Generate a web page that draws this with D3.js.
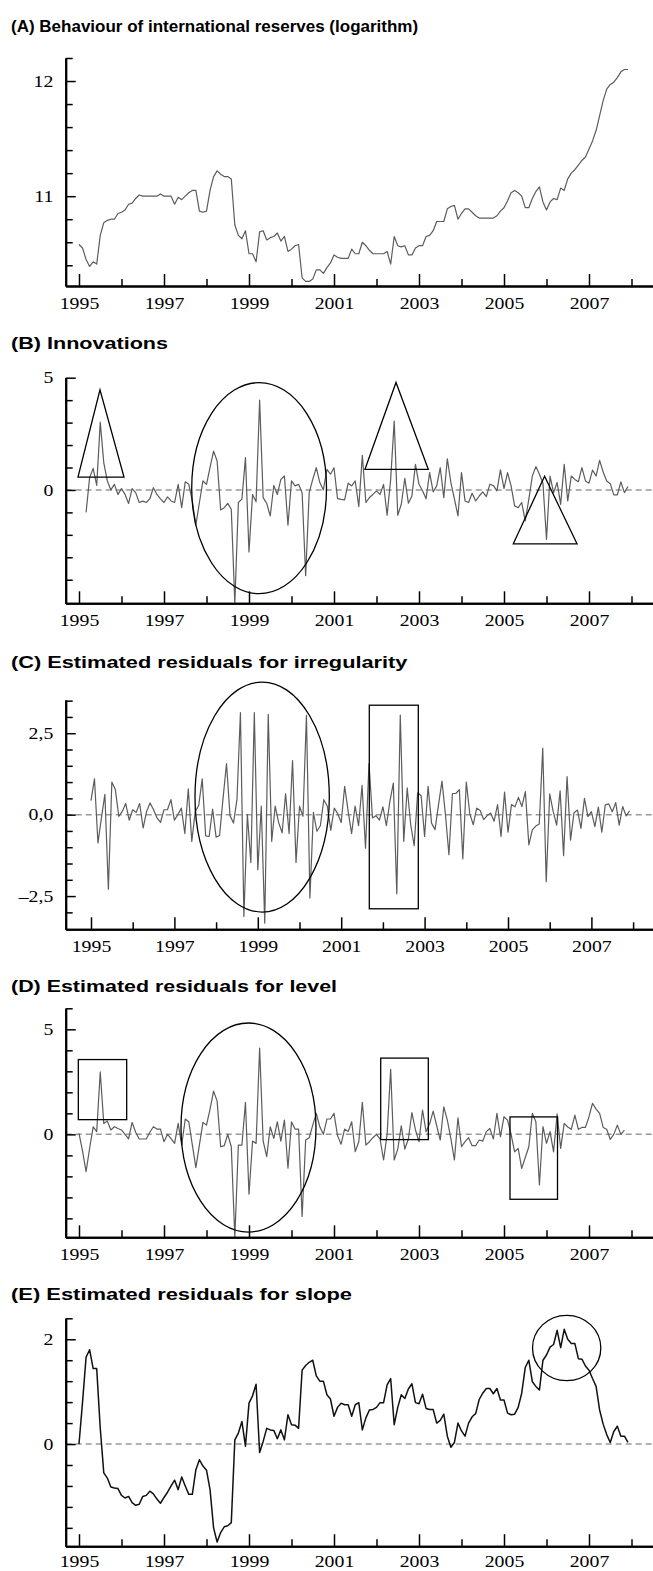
<!DOCTYPE html>
<html>
<head>
<meta charset="utf-8">
<script src="https://cdn.jsdelivr.net/npm/d3@7"></script>
<style>
  body { margin: 0; background: #fff; }
  svg { display: block; }
  .title { font-family: "Liberation Sans", Arial, sans-serif; font-weight: bold; font-size: 17px; fill: #000; }
  .axis path { stroke: #000; stroke-width: 2; }
  .axis line { stroke: #000; stroke-width: 1.5; }
</style>
</head>
<body>
<div id="chart"></div>
<script>
// monthly series, Jan 1995 - Dec 2007
var reservesLog = [
  10.58, 10.55, 10.45, 10.39, 10.43, 10.41, 10.66, 10.77, 10.79, 10.80, 10.80, 10.85,
  10.86, 10.88, 10.93, 10.94, 10.98, 11.01, 11.00, 11.00, 11.00, 11.00, 11.00, 11.02,
  11.00, 11.00, 11.00, 10.93, 10.99, 10.97, 11.00, 11.03, 11.05, 11.05, 10.87, 10.86,
  10.87, 11.05, 11.17, 11.22, 11.19, 11.17, 11.17, 11.15, 10.75, 10.66, 10.63, 10.70,
  10.50, 10.50, 10.43, 10.69, 10.70, 10.62, 10.64, 10.65, 10.68, 10.61, 10.65, 10.52,
  10.54, 10.57, 10.58, 10.29, 10.26, 10.26, 10.28, 10.36, 10.36, 10.33, 10.38, 10.42,
  10.49, 10.47, 10.46, 10.46, 10.46, 10.54, 10.50, 10.50, 10.60, 10.57, 10.53, 10.50,
  10.50, 10.50, 10.50, 10.52, 10.41, 10.65, 10.57, 10.56, 10.57, 10.49, 10.49, 10.55,
  10.57, 10.57, 10.65, 10.66, 10.70, 10.78, 10.78, 10.78, 10.89, 10.91, 10.92, 10.80,
  10.85, 10.89, 10.89, 10.86, 10.83, 10.81, 10.81, 10.81, 10.81, 10.81, 10.83, 10.87,
  10.90, 10.96, 11.03, 11.05, 11.03, 11.00, 10.90, 10.90, 10.98, 11.04, 11.08, 10.95,
  10.88, 10.95, 10.98, 10.97, 11.07, 11.05, 11.15, 11.20, 11.23, 11.27, 11.31, 11.34,
  11.41, 11.48, 11.57, 11.70, 11.83, 11.93, 11.97, 11.99, 12.03, 12.08, 12.10, 12.10
];

// starts Mar 1995
var innovations = [
  -1.0, 0.55, 0.96, 0.2, 3.02, 1.21, 0.4, 0.0, 0.25, -0.2,
  0.06, -0.2, -0.6, 0.06, -0.12, -0.56, -0.5, -0.56, -0.39, 0.1, -0.2, -0.4,
  -0.56, -0.31, -0.49, -0.56, 0.25, -0.79, 0.36, 0.25, -0.5, -1.57, -0.56, 0.4,
  0.25, 1.0, 1.73, 1.29, -0.89, -0.79, -0.6, -0.86, -5.05, -0.56, -0.41, 1.44,
  -2.76, -0.2, -0.53, 4.0, -0.34, -0.6, -1.16, 0.2, -0.2, 0.47, 0.62, -1.57,
  0.4, 0.18, 0.25, -0.12, -3.82, -0.12, 0.47, 0.99, 0.33, 0.0, 0.92, 0.7,
  0.99, -0.39, -0.42, -0.44, 0.3, 0.18, 0.4, -0.74, 1.54, -0.56, -0.34, -0.2,
  -0.04, -0.2, 0.25, -1.13, 0.47, 3.07, -1.13, -0.64, 0.52, -0.59, -0.27, 1.14,
  0.25, -0.04, -0.39, 0.77, -0.09, 0.18, 0.99, -0.34, 1.39, 0.33, -0.4, -1.16,
  0.77, -0.49, -0.56, -0.15, -0.49, -0.27, -0.09, -0.3, 0.25, 0.2, -0.04, 0.89,
  0.06, 0.77, 0.18, -0.71, -0.79, -0.56, -1.38, -0.42, 0.62, 1.04, 0.7, 0.3,
  -2.2, 0.62, -0.12, 0.33, -0.64, 1.14, -0.49, 0.62, 0.47, 0.37, 0.99, 0.4,
  0.3, 0.88, 0.62, 1.32, 0.8, 0.4, 0.28, -0.22, -0.22, 0.36, -0.12, 0.15
];

var irregularRes = [
  0.43, 1.1, -0.87, -0.1, 0.62, -2.29, 1.0, 0.77, -0.05, 0.1, 0.34, -0.17,
  0.15, 0.07, 0.34, -0.41, 0.1, 0.36, 0.15, -0.1, -0.24, 0.15, 0.15, 0.46,
  -0.17, 0.0, 0.2, -0.58, 0.79, -0.82, 0.1, 0.28, 1.1, -0.65, -0.67, 0.17,
  -0.69, -0.64, 0.5, 1.57, -0.03, -0.26, 0.46, 3.13, -3.13, 0.0, -1.47, 3.13,
  -1.69, 0.26, -3.33, 3.08, -0.82, 0.26, -0.24, -0.56, 0.64, -0.58, 1.66, -1.47,
  0.26, -0.05, 3.05, -2.56, 0.07, -0.51, -0.34, 0.46, 0.26, -0.48, 0.2, 0.03,
  -0.24, 0.87, 0.1, -0.58, 0.26, -0.34, 0.9, -1.03, 1.57, -0.1, -0.03, -0.17,
  0.24, -0.34, 0.4, 0.97, -2.43, 3.06, -0.82, 0.82, -0.31, -0.95, 0.67, 0.58,
  -0.67, 0.87, -0.26, -0.46, 0.3, 1.03, 0.0, -1.23, 0.65, 0.65, 0.77, -1.36,
  1.0, 0.03, -0.31, 0.2, 0.13, -0.15, -0.03, 0.05, -0.2, 0.31, -0.67, 0.69,
  -0.54, 0.31, 0.24, 0.53, 0.25, 0.71, -0.93, -0.47, -0.35, -0.29, 2.04, -2.06,
  0.64, 0.1, -0.32, 0.73, -1.26, 1.17, -0.78, 0.06, 0.14, -0.42, 0.5, -0.06,
  0.09, -0.37, 0.23, -0.54, 0.3, 0.33, 0.09, 0.37, -0.32, 0.25, -0.04, 0.12
];

var levelRes = [
  0.05, -0.8, -1.77, -0.66, 0.36, 0.13, 2.97, 0.52, 0.63, 0.21, 0.36, 0.28,
  0.21, 0.0, -0.22, 0.57, 0.1, -0.22, -0.22, -0.22, 0.1, 0.36, 0.25, 0.25,
  -0.35, 0.0, -0.2, -0.43, 0.52, -0.51, 0.73, 0.6, -0.5, -1.58, -0.5, 0.57,
  0.44, 1.2, 2.06, 1.58, -0.59, -0.54, 0.0, -0.59, -4.9, -0.51, -0.51, 1.52,
  -2.85, -0.32, -0.43, 4.11, -0.32, -1.06, 0.36, -0.19, 0.6, -0.32, 0.68, -1.61,
  0.6, 0.25, 0.25, -3.91, -0.27, -0.16, 0.44, 1.0, 0.36, 0.0, 0.73, 0.73,
  1.0, -0.06, -0.47, 0.25, 0.13, 0.6, -0.82, -0.35, 1.52, -0.51, -0.35, -0.16,
  0.0, -0.22, -1.22, 0.0, 3.1, -1.22, -0.7, 0.41, -0.7, -0.22, 1.04, 0.21,
  -0.35, 1.16, 0.13, 0.5, 1.11, 0.41, -0.27, 1.31, 0.68, -0.2, -1.22, 0.79,
  -0.59, -0.35, -0.16, -0.54, -0.54, -0.27, -0.32, 0.13, 0.28, -0.22, 1.0, -0.11,
  0.84, 0.68, 0.0, -0.83, -0.67, -1.62, -1.1, -0.6, 1.0, 0.6, -2.41, 0.37,
  -0.43, 0.13, -0.83, 0.97, -0.67, 0.52, 0.35, 0.24, 0.92, 0.24, 0.33, 0.33,
  0.84, 1.48, 1.2, 1.0, 0.33, 0.24, -0.24, 0.0, 0.44, 0.0, 0.2
];

var slopeRes = [
  0.0, 0.8, 1.66, 1.80, 1.44, 1.44, 0.3, -0.55, -0.65, -0.82, -0.84, -0.85,
  -0.98, -1.03, -1.0, -1.12, -1.17, -1.15, -1.0, -0.98, -0.9, -0.95, -1.05, -1.13,
  -1.02, -0.92, -0.8, -0.69, -0.87, -0.63, -0.8, -0.96, -0.96, -0.49, -0.30, -0.42,
  -0.5, -0.87, -1.6, -1.87, -1.69, -1.58, -1.56, -1.5, 0.08, 0.21, 0.43, -0.04,
  0.78, 0.92, 1.14, -0.16, 0.05, 0.3, 0.27, 0.26, 0.1, 0.27, 0.08, 0.56,
  0.37, 0.36, 0.3, 1.41, 1.5, 1.56, 1.6, 1.3, 1.2, 1.2, 0.94, 0.86,
  0.53, 0.7, 0.78, 0.75, 0.75, 0.53, 0.75, 0.79, 0.27, 0.5, 0.65, 0.66,
  0.7, 0.79, 0.79, 1.13, 1.25, 0.37, 0.7, 0.94, 0.87, 1.05, 1.15, 0.79,
  0.77, 0.95, 0.68, 0.66, 0.66, 0.4, 0.45, 0.57, 0.15, -0.06, 0.03, 0.4,
  0.25, 0.15, 0.4, 0.52, 0.58, 0.85, 0.97, 1.06, 1.06, 0.96, 1.06, 0.84,
  0.84, 0.59, 0.56, 0.57, 0.7, 0.97, 1.46, 1.6, 1.19, 1.1, 1.03, 1.6,
  1.7, 1.85, 1.9, 2.17, 1.84, 2.19, 2.0, 1.92, 1.92, 1.63, 1.62, 1.49,
  1.41, 1.25, 1.1, 0.65, 0.38, 0.18, 0.03, 0.24, 0.34, 0.15, 0.15, 0.03
];

var majorYears = [1995, 1997, 1999, 2001, 2003, 2005, 2007];
var minorYears = [1996, 1998, 2000, 2002, 2004, 2006, 2008];

// highlighted episodes (data units)
var innovationsMarks = [
  {shape: 'triangle', t0: 1994.976, t1: 1996.059, tApex: 1995.494, v0: 0.57, v1: 4.46},
  {shape: 'ellipse', t0: 1997.652, t1: 2000.824, v0: -4.62, v1: 4.78},
  {shape: 'triangle', t0: 2001.729, t1: 2003.219, tApex: 2002.459, v0: 0.92, v1: 4.79},
  {shape: 'triangle', t0: 2005.219, t1: 2006.718, tApex: 2005.955, v0: -2.40, v1: 0.61}
];
var irregularMarks = [
  {shape: 'ellipse', t0: 1997.494, t1: 2000.715, v0: -2.99, v1: 4.07},
  {shape: 'rect', t0: 2001.674, t1: 2002.849, v0: -2.89, v1: 3.36}
];
var levelMarks = [
  {shape: 'rect', t0: 1994.984, t1: 1996.122, v0: 0.70, v1: 3.56},
  {shape: 'ellipse', t0: 1997.4, t1: 2000.576, v0: -4.65, v1: 5.30},
  {shape: 'rect', t0: 2002.099, t1: 2003.219, v0: -0.25, v1: 3.63},
  {shape: 'rect', t0: 2005.141, t1: 2006.259, v0: -3.09, v1: 0.83}
];
var slopeMarks = [
  {shape: 'ellipse', t0: 2005.671, t1: 2007.278, v0: 1.209, v1: 2.457}
];

var W = 653, H = 1571, axisX = 65.7;
var serif = '"Liberation Serif", "Times New Roman", "DejaVu Serif", serif';

var fmtInt = d3.format('d');
var fmtComma = function(v) {
  return (v < 0 ? '\u2013' : '') + Math.abs(v).toFixed(1).replace('.', ',');
};

var panels = [
  {title: '(A) Behaviour of international reserves (logarithm)', stretch: 1.0, values: reservesLog, first: 0,
   titleY: 31.5, top: 58, bottom: 286, yDomain: [10.22, 12.2],
   yMajor: [11, 12], yMinor: [10.4, 10.6, 10.8, 11.2, 11.4, 11.6, 11.8, 12.2],
   fmt: fmtInt, x1995: 79, yearPx: 42.5, zero: false, color: '#5c5c5c', lw: 1.2, marks: [], pad: 11},
  {title: '(B) Innovations', stretch: 1.27, values: innovations, first: 2,
   titleY: 349, top: 377.7, bottom: 603.3, yDomain: [-5.05, 5],
   yMajor: [0, 5], yMinor: [-4, -3, -2, -1, 1, 2, 3, 4],
   fmt: fmtInt, x1995: 79, yearPx: 42.5, zero: true, color: '#5c5c5c', lw: 1.2, marks: innovationsMarks, pad: 11},
  {title: '(C) Estimated residuals for irregularity', stretch: 1.28, values: irregularRes, first: 0,
   titleY: 668, top: 700, bottom: 929.3, yDomain: [-3.52, 3.52],
   yMajor: [-2.5, 0, 2.5], yMinor: [-3, -2, -1.5, -1, -0.5, 0.5, 1, 1.5, 2, 3, 3.5],
   fmt: fmtComma, x1995: 91, yearPx: 41.7, zero: true, color: '#5c5c5c', lw: 1.2, marks: irregularMarks, pad: 11},
  {title: '(D) Estimated residuals for level', stretch: 1.26, values: levelRes, first: 0,
   titleY: 991.5, top: 1008.3, bottom: 1237.3, yDomain: [-4.9, 6],
   yMajor: [0, 5], yMinor: [-4, -3, -2, -1, 1, 2, 3, 4, 6],
   fmt: fmtInt, x1995: 79, yearPx: 42.5, zero: true, color: '#5c5c5c', lw: 1.2, marks: levelMarks, pad: 11},
  {title: '(E) Estimated residuals for slope', stretch: 1.29, values: slopeRes, first: 0,
   titleY: 1300, top: 1318.3, bottom: 1546.2, yDomain: [-1.95, 2.4],
   yMajor: [0, 2], yMinor: [-1.6, -1.2, -0.8, -0.4, 0.4, 0.8, 1.2, 1.6, 2.4],
   fmt: fmtInt, x1995: 79, yearPx: 42.5, zero: true, color: '#111', lw: 1.5, marks: slopeMarks, pad: 9.5}
];

var svg = d3.select('#chart').append('svg')
    .attr('width', W)
    .attr('height', H);

panels.forEach(drawPanel);

function styleTicks(sel) {
  sel.selectAll('text')
      .style('font-family', serif)
      .style('font-size', '16.5px')
      .attr('fill', '#000')
      .attr('transform', 'scale(1.2,1)');
}

function drawPanel(p) {
  var g = svg.append('g');

  var x = d3.scaleLinear()
      .domain([1995 - (p.x1995 - axisX) / p.yearPx, 1995 + (W - p.x1995) / p.yearPx])
      .range([axisX, W]);
  var y = d3.scaleLinear()
      .domain(p.yDomain)
      .range([p.bottom, p.top]);

  g.append('text')
      .attr('class', 'title')
      .attr('transform', 'translate(11,' + p.titleY + ') scale(' + p.stretch + ',1)')
      .text(p.title);

  if (p.zero) {
    g.append('line')
        .attr('x1', x.range()[0]).attr('x2', x.range()[1])
        .attr('y1', y(0)).attr('y2', y(0))
        .attr('stroke', '#999')
        .attr('stroke-width', 1.5)
        .attr('stroke-dasharray', '6,4');
  }

  var pts = p.values.map(function(v, i) {
    return {t: 1995 + (p.first + i) / 12, v: v};
  });

  var line = d3.line()
      .x(function(d) { return x(d.t); })
      .y(function(d) { return y(d.v); });

  g.append('path')
      .datum(pts)
      .attr('fill', 'none')
      .attr('stroke', p.color)
      .attr('stroke-width', p.lw)
      .attr('stroke-linejoin', 'round')
      .attr('d', line);

  // annotation shapes
  p.marks.forEach(function(m) {
    var s;
    if (m.shape === 'ellipse') {
      s = g.append('ellipse')
          .attr('cx', (x(m.t0) + x(m.t1)) / 2)
          .attr('cy', (y(m.v0) + y(m.v1)) / 2)
          .attr('rx', (x(m.t1) - x(m.t0)) / 2)
          .attr('ry', (y(m.v0) - y(m.v1)) / 2);
    } else if (m.shape === 'rect') {
      s = g.append('rect')
          .attr('x', x(m.t0))
          .attr('y', y(m.v1))
          .attr('width', x(m.t1) - x(m.t0))
          .attr('height', y(m.v0) - y(m.v1));
    } else {
      s = g.append('path')
          .attr('d', 'M' + x(m.t0) + ',' + y(m.v0) +
                     'L' + x(m.tApex) + ',' + y(m.v1) +
                     'L' + x(m.t1) + ',' + y(m.v0) + 'Z');
    }
    s.attr('fill', 'none').attr('stroke', '#000').attr('stroke-width', 1.3);
  });

  // x axis: labelled odd years, short ticks on even years
  g.append('g')
      .attr('class', 'axis')
      .attr('transform', 'translate(0,' + p.bottom + ')')
      .call(d3.axisBottom(x).tickValues(minorYears).tickSizeInner(-7).tickSizeOuter(0).tickFormat(''));

  var xa = g.append('g')
      .attr('class', 'axis')
      .attr('transform', 'translate(0,' + p.bottom + ')')
      .call(d3.axisBottom(x).tickValues(majorYears).tickSizeInner(-12).tickSizeOuter(0)
        .tickPadding(p.pad).tickFormat(fmtInt));
  styleTicks(xa);

  // y axis
  g.append('g')
      .attr('class', 'axis')
      .attr('transform', 'translate(' + axisX + ',0)')
      .call(d3.axisLeft(y).tickValues(p.yMinor).tickSizeInner(-7).tickSizeOuter(0).tickFormat(''));

  var ya = g.append('g')
      .attr('class', 'axis')
      .attr('transform', 'translate(' + axisX + ',0)')
      .call(d3.axisLeft(y).tickValues(p.yMajor).tickSizeInner(-10).tickSizeOuter(0)
        .tickPadding(10.3).tickFormat(p.fmt));
  styleTicks(ya);
}
</script>
</body>
</html>
